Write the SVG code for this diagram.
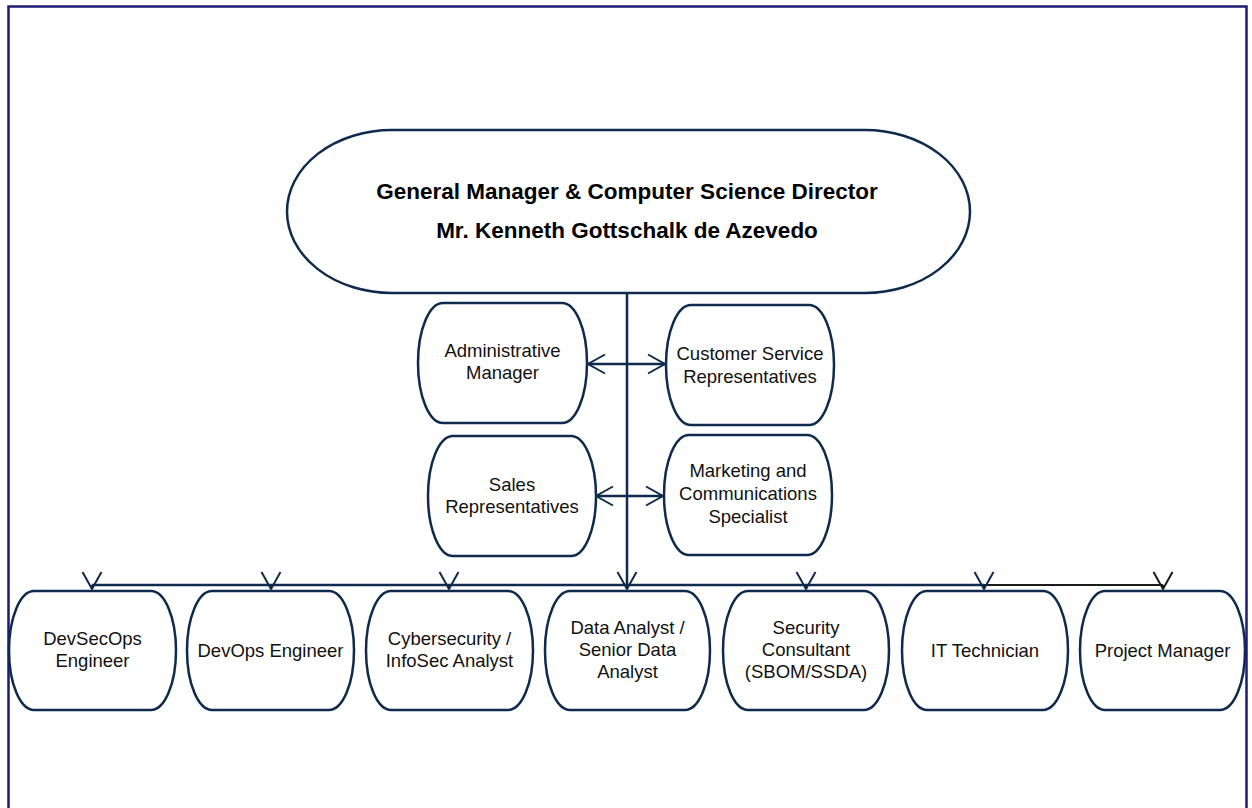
<svg xmlns="http://www.w3.org/2000/svg" width="1252" height="808" viewBox="0 0 1252 808">
  <style>
    .frame { fill: none; stroke: #1c1c78; stroke-width: 2.5; }
    .node { fill: #ffffff; stroke: #0f2a4d; stroke-width: 2.5; }
    .t { font-family: "Liberation Sans", Arial, sans-serif; font-size: 18.5px; fill: #111111; text-anchor: middle; }
    .tb { font-family: "Liberation Sans", Arial, sans-serif; font-size: 22.5px; font-weight: bold; fill: #000000; text-anchor: middle; }
    .conn { fill: none; stroke: #0f2a4d; stroke-width: 2.5; }
    .connk { fill: none; stroke: #1a1a1a; stroke-width: 2; }
  </style>
  <defs>
    <marker id="vhead" markerUnits="userSpaceOnUse" markerWidth="24" markerHeight="24" viewBox="-20 -12 24 24" refX="0" refY="0" orient="auto-start-reverse">
      <path d="M -17 -9.5 L 0 0 L -17 9.5" fill="none" stroke="#0f2a4d" stroke-width="2"/>
    </marker>
    <marker id="vheadk" markerUnits="userSpaceOnUse" markerWidth="24" markerHeight="24" viewBox="-20 -12 24 24" refX="0" refY="0" orient="auto-start-reverse">
      <path d="M -17 -9.5 L 0 0 L -17 9.5" fill="none" stroke="#1a1a1a" stroke-width="2"/>
    </marker>
  </defs>

  <rect class="frame" x="8.5" y="6.5" width="1238" height="820"/>

  <g id="connectors">
    <line class="conn" x1="627" y1="293" x2="627" y2="589" marker-end="url(#vhead)"/>
    <line class="conn" x1="92" y1="585" x2="984" y2="585"/>
    <line class="connk" x1="984" y1="585" x2="1163" y2="585"/>
    <line class="conn" x1="92" y1="585" x2="92" y2="589" marker-end="url(#vhead)"/>
    <line class="conn" x1="271" y1="585" x2="271" y2="589" marker-end="url(#vhead)"/>
    <line class="conn" x1="449" y1="585" x2="449" y2="589" marker-end="url(#vhead)"/>
    <line class="conn" x1="806" y1="585" x2="806" y2="589" marker-end="url(#vhead)"/>
    <line class="conn" x1="984" y1="585" x2="984" y2="589" marker-end="url(#vhead)"/>
    <line class="connk" x1="1163" y1="585" x2="1163" y2="589" marker-end="url(#vheadk)"/>
    <line class="conn" x1="588" y1="364" x2="665" y2="364" marker-start="url(#vhead)" marker-end="url(#vhead)"/>
    <line class="conn" x1="596" y1="496" x2="663" y2="496" marker-start="url(#vhead)" marker-end="url(#vhead)"/>
  </g>

  <g id="gm">
    <rect class="node" x="287" y="130" width="683" height="163" rx="105" ry="81.5"/>
    <text class="tb" x="627" y="199">General Manager &amp; Computer Science Director</text>
    <text class="tb" x="627" y="238">Mr. Kenneth Gottschalk de Azevedo</text>
  </g>

  <g id="admin">
    <rect class="node" x="418" y="303" width="169" height="120" rx="25" ry="60"/>
    <text class="t" x="502.5" y="357">Administrative</text>
    <text class="t" x="502.5" y="379">Manager</text>
  </g>

  <g id="customer-service">
    <rect class="node" x="666" y="305" width="168" height="120" rx="25" ry="60"/>
    <text class="t" x="750" y="360">Customer Service</text>
    <text class="t" x="750" y="383">Representatives</text>
  </g>

  <g id="sales">
    <rect class="node" x="428" y="436" width="168" height="120" rx="25" ry="60"/>
    <text class="t" x="512" y="491">Sales</text>
    <text class="t" x="512" y="513">Representatives</text>
  </g>

  <g id="marketing">
    <rect class="node" x="664" y="435" width="168" height="120" rx="25" ry="60"/>
    <text class="t" x="748" y="477">Marketing and</text>
    <text class="t" x="748" y="500">Communications</text>
    <text class="t" x="748" y="523">Specialist</text>
  </g>

  <g id="devsecops">
    <rect class="node" x="9" y="591" width="167" height="119" rx="25" ry="59.5"/>
    <text class="t" x="92.5" y="645">DevSecOps</text>
    <text class="t" x="92.5" y="667">Engineer</text>
  </g>

  <g id="devops">
    <rect class="node" x="187" y="591" width="167" height="119" rx="25" ry="59.5"/>
    <text class="t" x="270.5" y="657">DevOps Engineer</text>
  </g>

  <g id="cybersecurity">
    <rect class="node" x="366" y="591" width="167" height="119" rx="25" ry="59.5"/>
    <text class="t" x="449.5" y="645">Cybersecurity /</text>
    <text class="t" x="449.5" y="667">InfoSec Analyst</text>
  </g>

  <g id="data-analyst">
    <rect class="node" x="545" y="591" width="165" height="119" rx="25" ry="59.5"/>
    <text class="t" x="627.5" y="634">Data Analyst /</text>
    <text class="t" x="627.5" y="656">Senior Data</text>
    <text class="t" x="627.5" y="678">Analyst</text>
  </g>

  <g id="security-consultant">
    <rect class="node" x="723" y="591" width="166" height="119" rx="25" ry="59.5"/>
    <text class="t" x="806" y="634">Security</text>
    <text class="t" x="806" y="656">Consultant</text>
    <text class="t" x="806" y="678">(SBOM/SSDA)</text>
  </g>

  <g id="it-technician">
    <rect class="node" x="902" y="591" width="166" height="119" rx="25" ry="59.5"/>
    <text class="t" x="985" y="657">IT Technician</text>
  </g>

  <g id="project-manager">
    <rect class="node" x="1080" y="591" width="165" height="119" rx="25" ry="59.5"/>
    <text class="t" x="1162.5" y="657">Project Manager</text>
  </g>
</svg>
